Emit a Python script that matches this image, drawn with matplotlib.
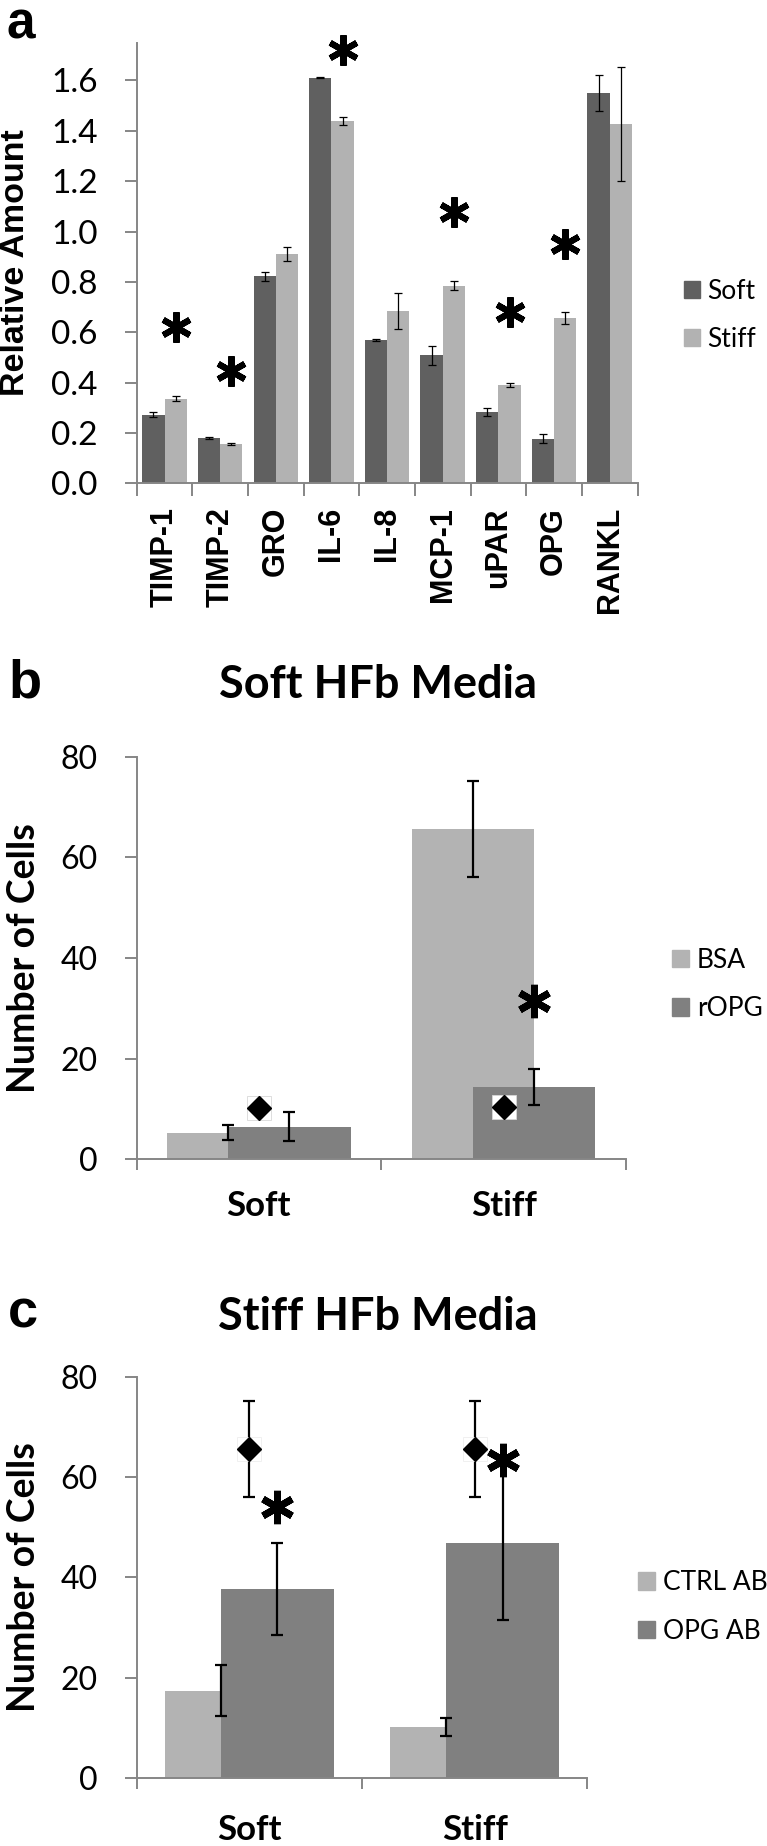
import matplotlib
matplotlib.use("Agg")
import matplotlib.pyplot as plt
from matplotlib.patches import Patch
from matplotlib.markers import MarkerStyle
import numpy as np

# ---------------- data ----------------
cytokines = ["TIMP-1", "TIMP-2", "GRO", "IL-6", "IL-8", "MCP-1", "uPAR", "OPG", "RANKL"]
soft_vals = [0.273, 0.180, 0.823, 1.610, 0.569, 0.508, 0.283, 0.178, 1.549]
soft_err = [0.010, 0.003, 0.018, 0.002, 0.003, 0.037, 0.015, 0.019, 0.072]
stiff_vals = [0.337, 0.157, 0.912, 1.439, 0.685, 0.784, 0.389, 0.656, 1.427]
stiff_err = [0.011, 0.003, 0.028, 0.014, 0.072, 0.018, 0.008, 0.023, 0.227]
a_star_cats = ["TIMP-1", "TIMP-2", "IL-6", "MCP-1", "uPAR", "OPG"]
a_star_y = [0.62, 0.447, 1.72, 1.078, 0.68, 0.95]
a_yticks = [0.0, 0.2, 0.4, 0.6, 0.8, 1.0, 1.2, 1.4, 1.6]

substrates = ["Soft", "Stiff"]
bsa_vals = [5.3, 65.7]
bsa_err = [1.55, 9.55]
ropg_vals = [6.5, 14.4]
ropg_err = [2.86, 3.55]
b_diamond_y = [10.2, 10.3]
b_star_y = [31.5]

ctrl_vals = [17.4, 10.2]
ctrl_err = [5.1, 1.8]
opgab_vals = [37.7, 46.8]
opgab_err = [9.1, 15.4]
c_diamond_y = [65.6, 65.6]
c_diamond_err = [9.5, 9.5]
c_star_y = [54.1, 63.4]
bc_yticks = [0, 20, 40, 60, 80]

# ---------------- style ----------------
W, H = 767, 1846
fig = plt.figure(figsize=(W / 100, H / 100), dpi=100)
AX_COL = "#868686"
SOFT_C = "#606060"
STIFF_C = "#B2B2B2"
LIGHT_C = "#B3B3B3"
DARK_C = "#808080"
REG = "Lato"
BOLD_ARIAL = "Liberation Sans"


def px_axes(left, top, right, bottom):
    return fig.add_axes([left / W, 1 - bottom / H, (right - left) / W, (bottom - top) / H])


def style_axes(ax):
    for s in ["top", "right"]:
        ax.spines[s].set_visible(False)
    for s in ["left", "bottom"]:
        ax.spines[s].set_color(AX_COL)
        ax.spines[s].set_linewidth(1.4)
    ax.tick_params(axis="both", which="major", direction="out", color=AX_COL,
                   width=1.4, length=9)


star_marker = MarkerStyle((6, 2, 0), capstyle="round")

# ================= panel a =================
axa = px_axes(136.7, 42.7, 637.5, 483.4)
style_axes(axa)
x = np.arange(len(cytokines))
bw = 0.4
axa.bar(x - bw / 2, soft_vals, bw, color=SOFT_C, label="Soft", zorder=2)
axa.bar(x + bw / 2, stiff_vals, bw, color=STIFF_C, label="Stiff", zorder=2)
axa.errorbar(x - bw / 2, soft_vals, yerr=soft_err, fmt="none", ecolor="black",
             elinewidth=0.9, capsize=3, capthick=0.9, zorder=3)
axa.errorbar(x + bw / 2, stiff_vals, yerr=stiff_err, fmt="none", ecolor="black",
             elinewidth=0.9, capsize=3, capthick=0.9, zorder=3)
star_x = [cytokines.index(c) + bw / 2 for c in a_star_cats]
axa.plot(star_x, a_star_y, linestyle="none", marker=star_marker, markersize=22,
         markeredgewidth=4.4, color="black", zorder=4, clip_on=False)
axa.set_xlim(-0.5, len(cytokines) - 0.5)
axa.set_ylim(0, 1.75)
axa.set_yticks(a_yticks)
axa.set_yticklabels([f"{v:.1f}" for v in a_yticks], fontfamily=REG, fontsize=24)
axa.tick_params(axis="y", pad=19)
axa.set_xticks(np.arange(-0.5, len(cytokines)), labels=[""] * (len(cytokines) + 1))
axa.set_xticks(x, labels=cytokines, minor=True)
axa.tick_params(axis="x", which="minor", length=0, pad=17)
for lbl in axa.get_xticklabels(minor=True):
    lbl.set_rotation(90)
    lbl.set_fontfamily(BOLD_ARIAL)
    lbl.set_fontweight("bold")
    lbl.set_fontsize(22)
    lbl.set_va("top")
    lbl.set_ha("center")
fig.text(16 / W, 1 - 263 / H, "Relative Amount", rotation=90, ha="center", va="center",
         fontfamily=BOLD_ARIAL, fontweight="bold", fontsize=24.5)
leg = axa.legend(handles=[Patch(color=SOFT_C), Patch(color=STIFF_C)], labels=["Soft", "Stiff"],
                 loc="center left", bbox_to_anchor=(684 / W, 1 - 315.3 / H),
                 bbox_transform=fig.transFigure, frameon=False, borderpad=0,
                 borderaxespad=0, handlelength=0.62, handleheight=0.62, handletextpad=0.25,
                 labelspacing=0.85, prop={"family": REG, "size": 19})
fig.text(7 / W, 1 - 38.5 / H, "a", fontfamily=BOLD_ARIAL, fontweight="bold", fontsize=37,
         ha="left", va="baseline")


# ================= panels b & c =================
def bar_panel(rect, light_vals, light_err, dark_vals, dark_err, labels, leg_anchor,
              title, title_base, letter, letter_base, ylab_y, xlab_pad):
    ax = px_axes(*rect)
    style_axes(ax)
    xs = np.arange(len(substrates))
    w = 0.5
    off = 0.125
    ax.bar(xs - off, light_vals, w, color=LIGHT_C, zorder=2)
    ax.bar(xs + off, dark_vals, w, color=DARK_C, zorder=2)
    ax.errorbar(xs - off, light_vals, yerr=light_err, fmt="none", ecolor="black",
                elinewidth=1.6, capsize=4.5, capthick=1.6, zorder=3)
    ax.errorbar(xs + off, dark_vals, yerr=dark_err, fmt="none", ecolor="black",
                elinewidth=1.6, capsize=4.5, capthick=1.6, zorder=3)
    ax.set_xlim(-0.5, len(substrates) - 0.5)
    ax.set_ylim(0, 80)
    ax.set_yticks(bc_yticks)
    ax.set_yticklabels([str(v) for v in bc_yticks], fontfamily=REG, fontsize=23)
    ax.tick_params(axis="y", pad=19)
    ax.set_xticks(np.arange(-0.5, len(substrates)), labels=[""] * (len(substrates) + 1))
    ax.tick_params(axis="x", which="major", length=8)
    ax.set_xticks(xs, labels=substrates, minor=True)
    ax.tick_params(axis="x", which="minor", length=0, pad=xlab_pad)
    for lbl in ax.get_xticklabels(minor=True):
        lbl.set_fontfamily(REG)
        lbl.set_fontweight("bold")
        lbl.set_fontsize(25)
    ax.legend(handles=[Patch(color=LIGHT_C), Patch(color=DARK_C)], labels=labels,
              loc="center left", bbox_to_anchor=leg_anchor, bbox_transform=fig.transFigure,
              frameon=False, borderpad=0, borderaxespad=0, handlelength=0.65,
              handleheight=0.65, handletextpad=0.3, labelspacing=0.9,
              prop={"family": REG, "size": 19})
    fig.text(378 / W, 1 - title_base / H, title, ha="center", va="baseline",
             fontfamily=REG, fontweight="bold", fontsize=32.5)
    fig.text(8 / W, 1 - letter_base / H, letter, ha="left", va="baseline",
             fontfamily=BOLD_ARIAL, fontweight="bold", fontsize=39)
    fig.text(24 / W, 1 - ylab_y / H, "Number of Cells", rotation=90, ha="center",
             va="center", fontfamily=REG, fontweight="bold", fontsize=27)
    return ax, xs


axb, xs = bar_panel((136.5, 756.7, 626, 1159.3), bsa_vals, bsa_err, ropg_vals, ropg_err,
                    ["BSA", "rOPG"], (672 / W, 1 - 984.5 / H), "Soft HFb Media", 698,
                    "b", 697, 958, 22)
axb.plot(xs, b_diamond_y, linestyle="none", marker="s", markersize=17,
         markerfacecolor="white", markeredgecolor="#d8d8d8", markeredgewidth=0.6, zorder=4)
axb.plot(xs, b_diamond_y, linestyle="none", marker="D", markersize=12, color="black", zorder=5)
axb.plot([xs[1] + 0.125], b_star_y, linestyle="none", marker=star_marker, markersize=24,
         markeredgewidth=5, color="black", zorder=5, clip_on=False)

axc, xs = bar_panel((136.5, 1376.7, 587.4, 1778), ctrl_vals, ctrl_err, opgab_vals, opgab_err,
                    ["CTRL AB", "OPG AB"], (638 / W, 1 - 1607 / H), "Stiff HFb Media", 1330,
                    "c", 1327, 1577, 26)
axc.errorbar(xs, c_diamond_y, yerr=c_diamond_err, fmt="none", ecolor="black",
             elinewidth=1.6, capsize=4.5, capthick=1.6, zorder=4)
axc.plot(xs, c_diamond_y, linestyle="none", marker="s", markersize=17,
         markerfacecolor="white", markeredgecolor="#eeeeee", markeredgewidth=0.6, zorder=4)
axc.plot(xs, c_diamond_y, linestyle="none", marker="D", markersize=12, color="black", zorder=5)
axc.plot(xs + 0.125, c_star_y, linestyle="none", marker=star_marker, markersize=24,
         markeredgewidth=5, color="black", zorder=5, clip_on=False)

fig.savefig("out.png", dpi=100, facecolor="white")
